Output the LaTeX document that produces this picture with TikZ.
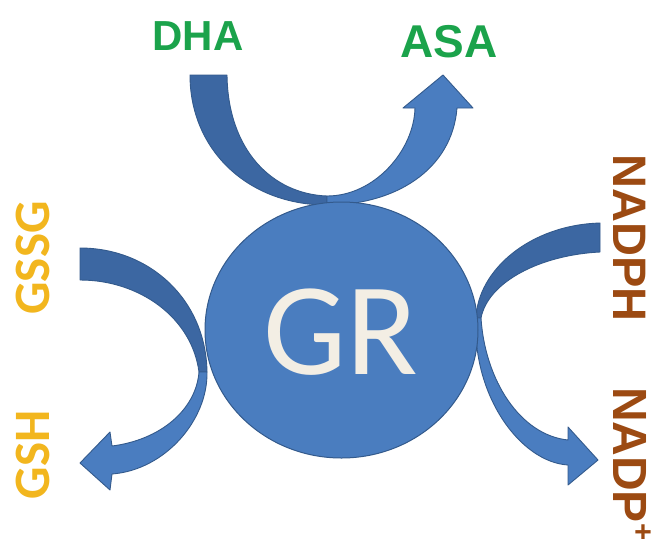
\documentclass[tikz,border=0pt]{standalone}
\usepackage{fontspec}
\usetikzlibrary{shapes.geometric}
\newfontfamily\arialfont{Liberation Sans}
\newfontfamily\califont{Carlito}
\definecolor{darkband}{HTML}{3C67A2}
\definecolor{lightband}{HTML}{4A7DC0}
\definecolor{edgeblue}{HTML}{335A8C}
\definecolor{circfill}{HTML}{4A7DBF}
\definecolor{labgreen}{HTML}{1BA34B}
\definecolor{labyellow}{HTML}{F2B61E}
\definecolor{labbrown}{HTML}{9C4A12}
\definecolor{grtext}{HTML}{F3EEE4}
\tikzset{
  darkpart/.style={fill=darkband, draw=edgeblue, line width=0.9pt, line join=round},
  lightpart/.style={fill=lightband, draw=edgeblue, line width=0.9pt, line join=round},
  lab/.style={inner sep=0pt, outer sep=0pt, font=\arialfont\bfseries\fontsize{44}{50}\selectfont},
  glab/.style={inner sep=0pt, outer sep=0pt, text=labyellow, rotate=90, font=\califont\bfseries\fontsize{51}{56}\selectfont},
}
\begin{document}
\begin{tikzpicture}[x=1pt, y=-1pt]
\useasboundingbox (0,0) rectangle (657,539);
\fill[white] (0,0) rectangle (657,539);
\clip (0,0) rectangle (657,539);
% top arrow DHA -> ASA
\path[darkpart] (190,75) -- (227,75) .. controls (228,150) and (272,194) .. (327,196)
  -- (327,205) .. controls (248,205) and (190,150) .. (190,75) -- cycle;
\path[lightpart] (327,196) .. controls (375,196) and (414,150) .. (415,108)
  -- (403,108) -- (443,75) -- (473,108) -- (457,108)
  .. controls (452,170) and (395,205) .. (327,205) -- cycle;
% left arrow GSSG -> GSH
\path[darkpart] (80,248) .. controls (150,248) and (206,300) .. (207,372)
  -- (199,372) .. controls (192,318) and (140,280) .. (80,280) -- cycle;
\path[lightpart] (199,372) -- (207,372) .. controls (208,420) and (165,470) .. (112,474)
  -- (110,490) -- (80,463) -- (110,432) -- (112,446)
  .. controls (160,440) and (196,410) .. (199,372) -- cycle;
% right arrow NADPH -> NADP+
\path[darkpart] (600,223) -- (600,252) .. controls (540,255) and (488,282) .. (481,318)
  -- (476,318) .. controls (478,270) and (530,225) .. (600,223) -- cycle;
\path[lightpart] (476,318) -- (481,318) .. controls (485,380) and (520,435) .. (568,440)
  -- (568,427) -- (598,460) -- (568,485) -- (568,465)
  .. controls (520,462) and (472,395) .. (476,318) -- cycle;
% enzyme
\node[ellipse, minimum width=273pt, minimum height=256pt, inner sep=0pt,
  fill=circfill, draw=edgeblue, line width=1pt] (gr) at (341.5,330) {};
\node[inner sep=0pt, text=grtext, font=\califont\fontsize{132}{140}\selectfont] (grlab) at (341,332) {GR};
% labels
\node[lab, text=labgreen, font=\arialfont\bfseries\fontsize{42}{50}\selectfont] (dha) at (198,36) {DHA};
\node[lab, text=labgreen, font=\arialfont\bfseries\fontsize{46}{50}\selectfont] (asa) at (449,42) {ASA};
\node[glab] (gssg) at (33,258) {GSSG};
\node[glab] (gsh) at (33,455) {GSH};
\node[lab, text=labbrown, rotate=-90, font=\arialfont\bfseries\fontsize{47}{50}\selectfont] (nadph) at (630,238) {NADPH};
\node[lab, text=labbrown, rotate=-90, anchor=base west, font=\arialfont\bfseries\fontsize{48}{50}\selectfont] (nadp) at (613,387) {NADP\raisebox{0.42em}{\fontsize{30}{30}\selectfont +}};
\end{tikzpicture}
\end{document}
